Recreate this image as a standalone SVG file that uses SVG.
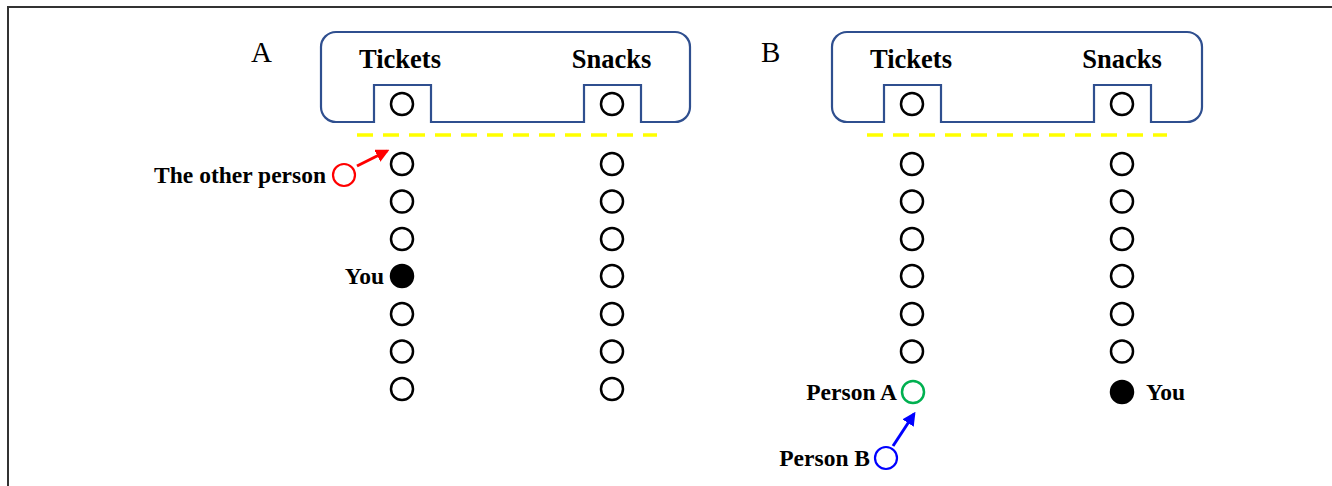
<svg xmlns="http://www.w3.org/2000/svg" width="1332" height="486" viewBox="0 0 1332 486">
<style>
.lbl{font-family:"Liberation Serif","Times New Roman",serif;font-weight:bold;font-size:23.5px;fill:#000}
.hd{font-family:"Liberation Serif","Times New Roman",serif;font-weight:bold;font-size:26.5px;fill:#000}
.pl{font-family:"Liberation Serif","Times New Roman",serif;font-size:29px;fill:#000}
.c{fill:none;stroke:#000;stroke-width:2.5}
.f{fill:#000;stroke:#000;stroke-width:2.5}
.box{fill:none;stroke:#2f4f8f;stroke-width:2.2;stroke-linejoin:miter}
.dash{stroke:#ffff00;stroke-width:3.5;stroke-dasharray:16 10}
</style>
<defs>
<marker id="ar" viewBox="0 0 10 10" refX="8" refY="5" markerWidth="4.5" markerHeight="4.5" orient="auto" markerUnits="strokeWidth"><path d="M0,0 L10,5 L0,10 z" fill="#ff0000"/></marker>
<marker id="ab" viewBox="0 0 10 10" refX="8" refY="5" markerWidth="4.5" markerHeight="4.5" orient="auto" markerUnits="strokeWidth"><path d="M0,0 L10,5 L0,10 z" fill="#0000ff"/></marker>
</defs>
<rect width="1332" height="486" fill="#fff"/>
<path d="M8,486 V7 H1332" fill="none" stroke="#333" stroke-width="2"/>

<g id="panelA">
<text class="pl" x="251" y="62">A</text>
<path class="box" d="M336,32 H675 A15,15 0 0 1 690,47 V107 A15,15 0 0 1 675,122 H641 V85 H584 V122 H431 V85 H374 V122 H336 A15,15 0 0 1 321,107 V47 A15,15 0 0 1 336,32 Z"/>
<text class="hd" x="400" y="68" text-anchor="middle">Tickets</text>
<text class="hd" x="611.5" y="68" text-anchor="middle">Snacks</text>
<circle class="c" cx="402" cy="104" r="11"/>
<circle class="c" cx="612" cy="104" r="11"/>
<line class="dash" x1="357" y1="135" x2="657" y2="135"/>
</g>

<g id="queueA-tickets">
<circle class="c" cx="402" cy="164" r="11"/>
<circle class="c" cx="402" cy="201.5" r="11"/>
<circle class="c" cx="402" cy="239" r="11"/>
<circle class="f" cx="402" cy="276" r="11"/>
<circle class="c" cx="402" cy="314" r="11"/>
<circle class="c" cx="402" cy="351.5" r="11"/>
<circle class="c" cx="402" cy="389" r="11"/>
<text class="lbl" x="384" y="284" text-anchor="end">You</text>
</g>
<g id="queueA-snacks">
<circle class="c" cx="612" cy="164" r="11"/>
<circle class="c" cx="612" cy="201.5" r="11"/>
<circle class="c" cx="612" cy="239" r="11"/>
<circle class="c" cx="612" cy="276" r="11"/>
<circle class="c" cx="612" cy="314" r="11"/>
<circle class="c" cx="612" cy="351.5" r="11"/>
<circle class="c" cx="612" cy="389" r="11"/>
</g>
<g id="otherPerson">
<circle cx="344" cy="175" r="11" fill="none" stroke="#ff0000" stroke-width="2.2"/>
<text class="lbl" x="326" y="183" text-anchor="end">The other person</text>
</g>

<g id="panelB">
<text class="pl" x="761" y="62">B</text>
<path class="box" d="M847,32 H1187 A15,15 0 0 1 1202,47 V107 A15,15 0 0 1 1187,122 H1151 V85 H1094 V122 H941 V85 H884 V122 H847 A15,15 0 0 1 832,107 V47 A15,15 0 0 1 847,32 Z"/>
<text class="hd" x="911" y="68" text-anchor="middle">Tickets</text>
<text class="hd" x="1122" y="68" text-anchor="middle">Snacks</text>
<circle class="c" cx="912" cy="104" r="11"/>
<circle class="c" cx="1122" cy="104" r="11"/>
<line class="dash" x1="867" y1="135" x2="1167" y2="135"/>
</g>
<g id="queueB-tickets">
<circle class="c" cx="912" cy="164" r="11"/>
<circle class="c" cx="912" cy="201.5" r="11"/>
<circle class="c" cx="912" cy="239" r="11"/>
<circle class="c" cx="912" cy="276" r="11"/>
<circle class="c" cx="912" cy="314" r="11"/>
<circle class="c" cx="912" cy="351.5" r="11"/>
</g>
<g id="personA">
<circle cx="913" cy="392" r="11" fill="none" stroke="#00b050" stroke-width="2.5"/>
<text class="lbl" x="897" y="400" text-anchor="end">Person A</text>
</g>
<g id="personB">
<circle cx="886" cy="458" r="11" fill="none" stroke="#0000ff" stroke-width="2.2"/>
<text class="lbl" x="870" y="466" text-anchor="end">Person B</text>
</g>
<g id="queueB-snacks">
<circle class="c" cx="1122" cy="164" r="11"/>
<circle class="c" cx="1122" cy="201.5" r="11"/>
<circle class="c" cx="1122" cy="239" r="11"/>
<circle class="c" cx="1122" cy="276" r="11"/>
<circle class="c" cx="1122" cy="314" r="11"/>
<circle class="c" cx="1122" cy="351.5" r="11"/>
<circle class="f" cx="1122" cy="392" r="11"/>
<text class="lbl" x="1146" y="400">You</text>
</g>

<g id="connectors">
<line x1="357" y1="166" x2="387" y2="151" stroke="#ff0000" stroke-width="3" marker-end="url(#ar)"/>
<line x1="893" y1="446" x2="914" y2="414" stroke="#0000ff" stroke-width="3" marker-end="url(#ab)"/>
</g>
</svg>
